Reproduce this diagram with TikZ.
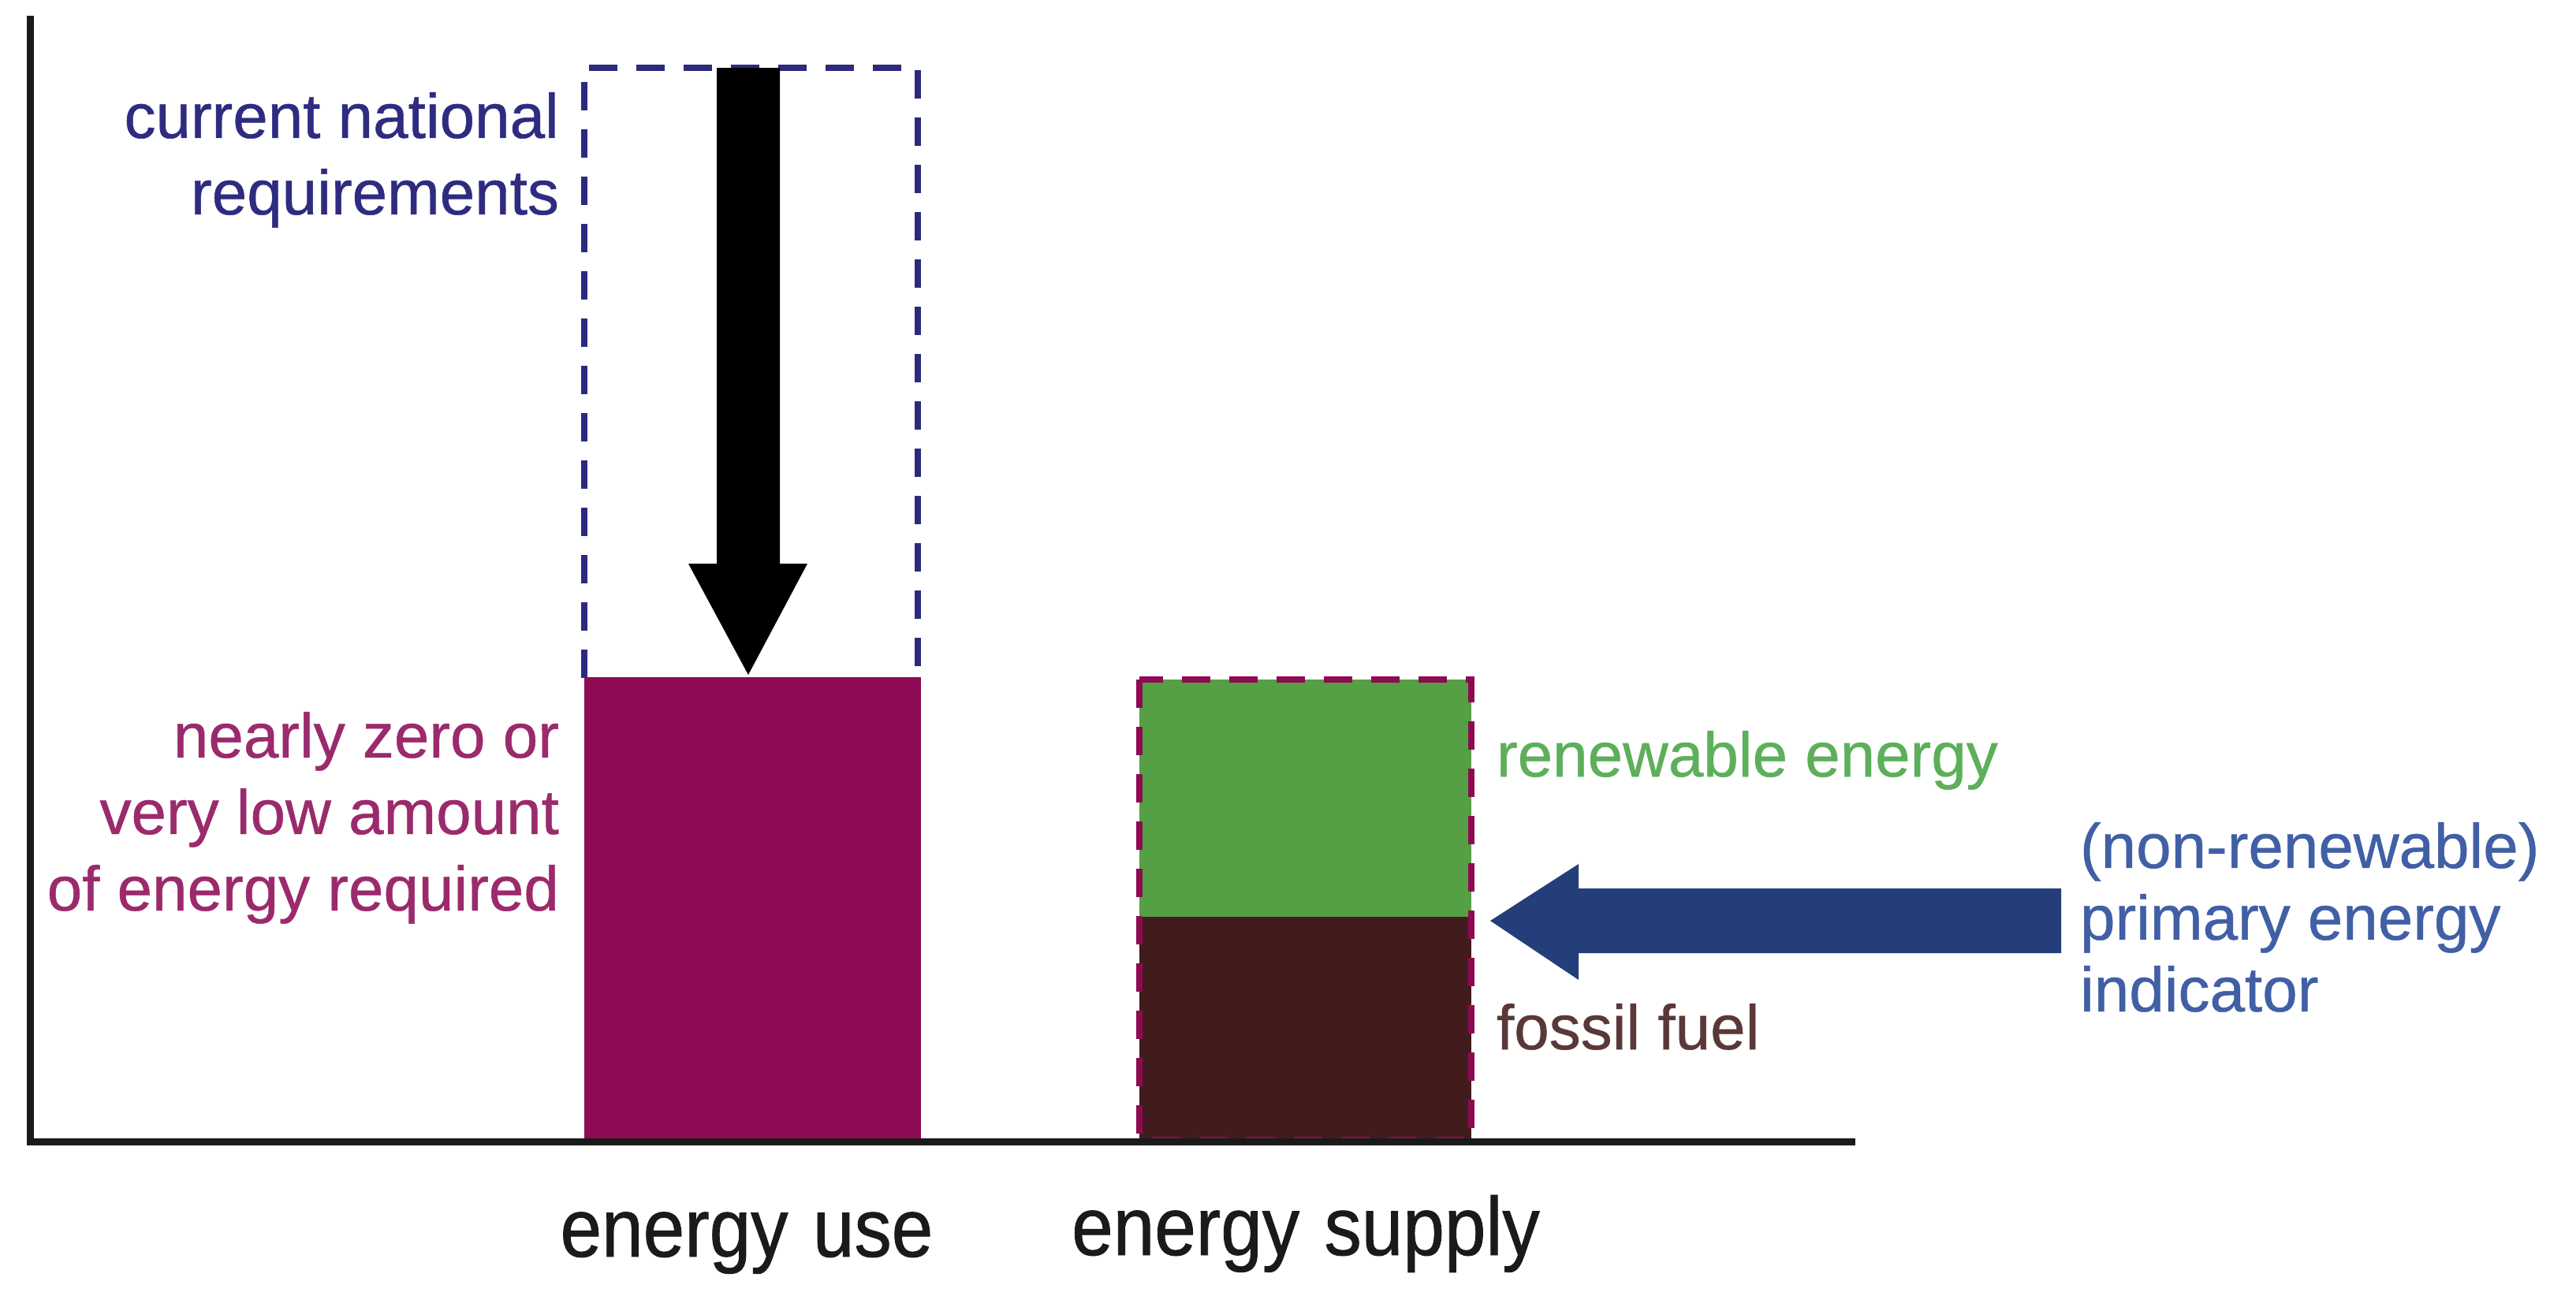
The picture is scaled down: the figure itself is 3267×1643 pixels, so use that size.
\documentclass[tikz,border=0pt]{standalone}
\usepackage{fontspec}
\setmainfont{Liberation Sans}[FakeBold=0.6]
\newfontfamily\axisfont{Liberation Sans}[FakeStretch=0.9, FakeBold=0.8]
\definecolor{navy}{HTML}{2B2A7E}
\definecolor{navytext}{HTML}{2E2C80}
\definecolor{magbar}{HTML}{8E0A52}
\definecolor{magtext}{HTML}{9B2A6C}
\definecolor{greenbar}{HTML}{55A044}
\definecolor{greentext}{HTML}{5DAF5A}
\definecolor{brownbar}{HTML}{421C1C}
\definecolor{browntext}{HTML}{5B3838}
\definecolor{bluearrow}{HTML}{233E78}
\definecolor{bluetext}{HTML}{415FA5}
\definecolor{axisc}{HTML}{1A1A1A}
\tikzset{
  dashbox/.style={line width=1.7pt, dash pattern=on 7.2pt off 4.8pt},
  lbl/.style={inner sep=0pt, font=\fontsize{16}{19.4}\selectfont},
  lblr/.style={inner sep=0pt, font=\fontsize{16}{18.2}\selectfont},
  axislabel/.style={inner sep=0pt, font=\axisfont\fontsize{21}{24}\selectfont, text=axisc},
}
\begin{document}
\begin{tikzpicture}[x=0.2pt,y=-0.2pt]
\useasboundingbox (0,0) rectangle (3267,1643);
\fill[white] (0,0) rectangle (3267,1643);

% axes coordinates
\coordinate (ytop) at (38,20);
\coordinate (origin) at (38,1448);
\coordinate (xend) at (2353,1448);

% energy use: dashed current requirement box and bar
\draw[navy, dashbox] (741,860) -- (741,86) -- (1164,86) -- (1164,860);
\fill[magbar] (741,859) rectangle (1168,1448);

% black reduction arrow
\fill[black] (909,86) -- (989,86) -- (989,715) -- (1024,715) -- (949,856)
  -- (873,715) -- (909,715) -- cycle;

% energy supply bar
\fill[greenbar] (1445,862) rectangle (1866,1163);
\fill[brownbar] (1445,1163) rectangle (1866,1448);
\draw[magbar, dashbox] (1445,862) rectangle (1866,1446);

% blue indicator arrow
\coordinate (btip) at (1890,1168);
\fill[bluearrow] (btip) -- (2002,1096) -- (2002,1127) -- (2614,1127)
  -- (2614,1209) -- (2002,1209) -- (2002,1243) -- cycle;

% axes
\draw[axisc, line width=1.8pt] (ytop) -- (origin) -- (xend);

% labels
\node[lbl, text=navytext, align=right, anchor=north east] (req) at (710,116)
  {current national\\requirements};
\node[lbl, text=magtext, align=right, anchor=north east] (nzeb) at (710,902)
  {nearly zero or\\very low amount\\of energy required};
\node[lbl, text=greentext, anchor=base west] (ren) at (1897,985) {renewable energy};
\node[lbl, text=browntext, anchor=base west] (fos) at (1897,1331) {fossil fuel};
\node[lblr, text=bluetext, align=left, anchor=north west] (pei) at (2637,1042)
  {(non-renewable)\\primary energy\\indicator};
\node[axislabel, anchor=base] (use) at (947,1594) {energy\hspace{0.3em}use};
\node[axislabel, anchor=base] (sup) at (1656,1592) {energy\hspace{0.3em}supply};
\end{tikzpicture}
\end{document}
